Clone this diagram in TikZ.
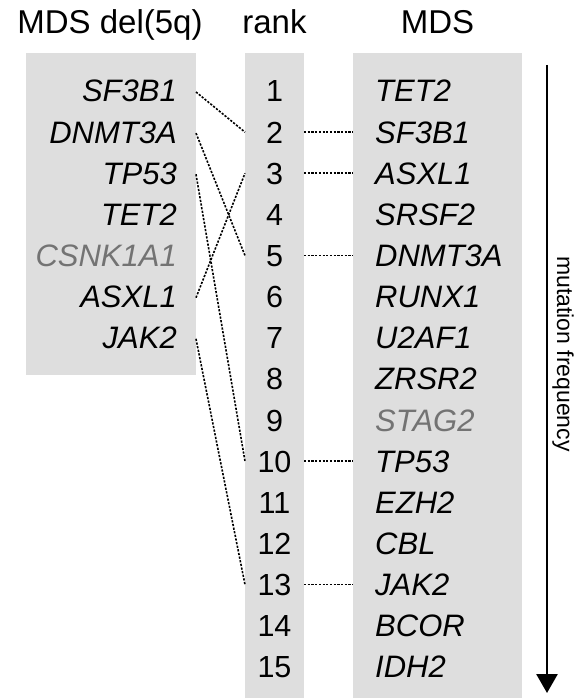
\documentclass[tikz,border=0pt]{standalone}
\usepackage{fontspec}
\setmainfont{Liberation Sans}
\usetikzlibrary{arrows.meta}
\definecolor{panelgray}{HTML}{DEDEDE}
\definecolor{mutedtext}{HTML}{737373}
\begin{document}
\begin{tikzpicture}[x=1pt,y=-1pt,
  panel/.style={fill=panelgray, draw=none},
  title/.style={font=\fontsize{33}{39}\selectfont, anchor=base, inner sep=0pt},
  gene/.style={font=\fontsize{31}{37}\selectfont\itshape, inner sep=0pt},
  leftgene/.style={gene, anchor=base east},
  rightgene/.style={gene, anchor=base west},
  ranknum/.style={font=\fontsize{30.5}{37}\selectfont, anchor=base, inner sep=0pt},
  faint/.style={text=mutedtext},
  link/.style={line width=1.6pt, dash pattern=on 2.2pt off 1.5pt},
  axis/.style={line width=2.8pt, -{Triangle[width=21pt,length=19pt]}},
]
\useasboundingbox (0,0) rectangle (580,698);

% background panels
\fill[panel] (26,53) rectangle (196,375);
\fill[panel] (245,53) rectangle (304,698);
\fill[panel] (353,53) rectangle (522,698);

% column headings
\node[title] (tL) at (110,34) {MDS del(5q)};
\node[title] (tM) at (274.5,34) {rank};
\node[title] (tR) at (437.5,34) {MDS};

% genes in MDS del(5q), right aligned
\foreach \g/\s [count=\i] in {SF3B1/, DNMT3A/, TP53/, TET2/, CSNK1A1/faint, ASXL1/, JAK2/} {
  \pgfmathsetmacro\yy{91+(\i-1)*41.14}
  \node[leftgene,\s] (L\i) at (177,\yy+11) {\g};
  \coordinate (Lx\i) at (196,\yy+1);
}

% ranks and genes in MDS
\foreach \g/\s [count=\i] in {TET2/, SF3B1/, ASXL1/, SRSF2/, DNMT3A/, RUNX1/, U2AF1/, ZRSR2/, STAG2/faint, TP53/, EZH2/, CBL/, JAK2/, BCOR/, IDH2/} {
  \pgfmathsetmacro\yy{91+(\i-1)*41.14}
  \node[ranknum] (N\i) at (274.5,\yy+11) {\i};
  \node[rightgene,\s] (R\i) at (375,\yy+11) {\g};
  \coordinate (Na\i) at (245,\yy);
  \coordinate (Nb\i) at (304,\yy);
  \coordinate (Rx\i) at (353,\yy);
}

% links from MDS del(5q) genes to their rank
\draw[link] (Lx1) -- (Na2);
\draw[link] (Lx2) -- (Na5);
\draw[link] (Lx3) -- (Na10);
\draw[link] (Lx6) -- (Na3);
\draw[link] (Lx7) -- (Na13);

% links from rank to MDS genes
\foreach \k in {2,3,5,10,13}
  \draw[link] (Nb\k) -- (Rx\k);

% frequency axis
\coordinate (axTop) at (547,65);
\coordinate (axTip) at (547,693);
\draw[axis] (axTop) -- (axTip);
\node[rotate=-90, font=\fontsize{23}{28}\selectfont, inner sep=0pt] (freq) at (563,354) {mutation frequency};
\end{tikzpicture}
\end{document}
